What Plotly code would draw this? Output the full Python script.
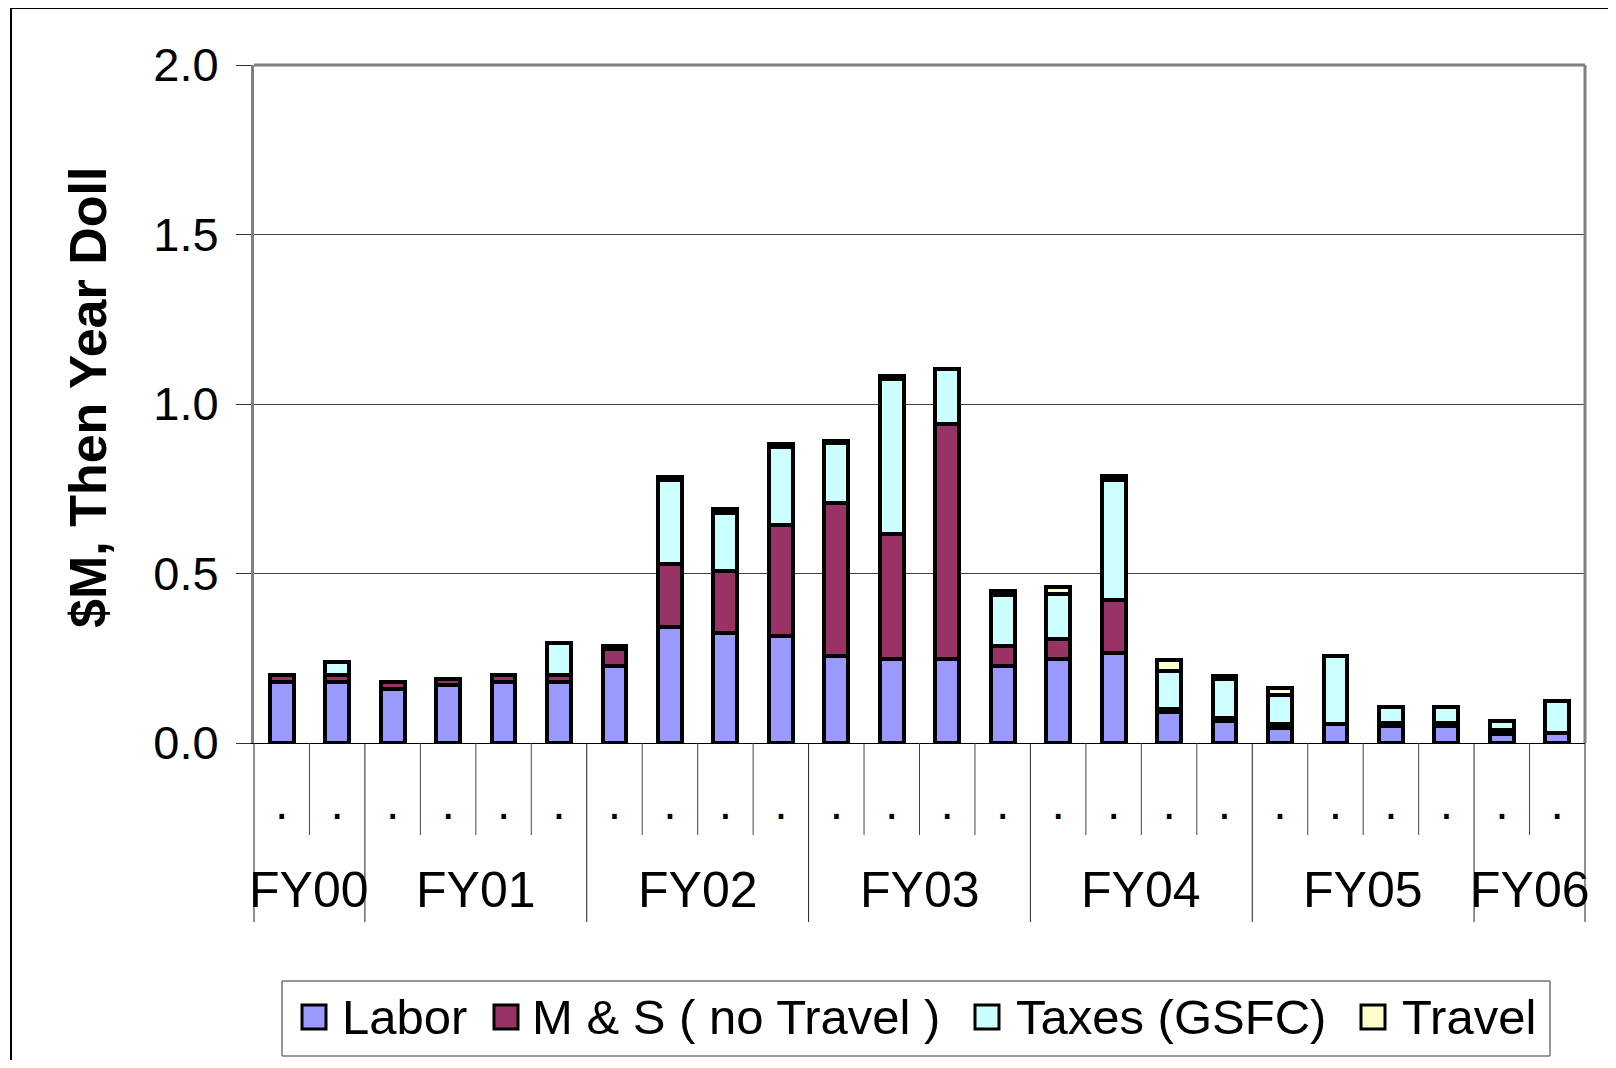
import plotly.graph_objects as go

# ---------------- data ----------------
fy_groups = ["FY00", "FY01", "FY02", "FY03", "FY04", "FY05", "FY06"]
fy_quarters = [["Q3", "Q4"], ["Q1", "Q2", "Q3", "Q4"], ["Q1", "Q2", "Q3", "Q4"],
               ["Q1", "Q2", "Q3", "Q4"], ["Q1", "Q2", "Q3", "Q4"],
               ["Q1", "Q2", "Q3", "Q4"], ["Q1", "Q2"]]
categories = [f"{g} {q}" for g, qs in zip(fy_groups, fy_quarters) for q in qs]
tick_labels = ["."] * len(categories)

labor = [0.18, 0.18, 0.16, 0.17, 0.18, 0.18, 0.226, 0.343, 0.324, 0.316, 0.257, 0.248,
         0.248, 0.227, 0.248, 0.265, 0.09, 0.064, 0.045, 0.056, 0.05, 0.05, 0.027, 0.029]
m_and_s = [0.02, 0.02, 0.02, 0.02, 0.02, 0.02, 0.05, 0.185, 0.184, 0.328, 0.452, 0.368,
           0.693, 0.06, 0.058, 0.156, 0.01, 0.01, 0.01, 0.0, 0.01, 0.01, 0.01, 0.0]
taxes = [0.0, 0.038, 0.0, 0.0, 0.0, 0.096, 0.01, 0.248, 0.171, 0.228, 0.175, 0.457,
         0.163, 0.15, 0.134, 0.355, 0.111, 0.116, 0.086, 0.202, 0.045, 0.045, 0.029, 0.095]
travel = [0.0, 0.0, 0.0, 0.0, 0.0, 0.0, 0.0, 0.009, 0.011, 0.011, 0.007, 0.011,
          0.0, 0.01, 0.02, 0.012, 0.035, 0.008, 0.02, 0.0, 0.0, 0.0, 0.0, 0.0]

series_names = ["Labor", "M & S ( no Travel )", "Taxes (GSFC)", "Travel"]
series_values = [labor, m_and_s, taxes, travel]
series_colors = ["#9999FF", "#993366", "#CCFFFF", "#FFFFCC"]

y_ticks = [0.0, 0.5, 1.0, 1.5, 2.0]
y_title = "$M, Then Year Doll"

# ---------------- layout geometry ----------------
# The page adds an 8px body margin, so the figure is 16px smaller than the
# window and page coordinates are shifted by OFF.
OFF = 8
W, H = 1600, 1052
ML, MR, MT, MB = 246, 23, 57, 317
PW, PH = W - ML - MR, H - MT - MB
FONT = "Liberation Sans, Arial, sans-serif"


def px(x):
    """page x (window pixels) -> paper x"""
    return (x - OFF - ML) / PW


def py(y):
    """page y (window pixels) -> paper y"""
    return (H - MB - (y - OFF)) / PH


fig = go.Figure()
for name, vals, col in zip(series_names, series_values, series_colors):
    fig.add_trace(go.Bar(
        x=categories, y=vals, name=name,
        marker=dict(color=col, line=dict(color="black", width=4)),
        showlegend=False,
    ))

shapes = []
# outer frame (top and left visible)
shapes.append(dict(type="line", xref="paper", yref="paper", x0=px(11), x1=px(1640),
                   y0=py(8), y1=py(8), line=dict(color="black", width=2)))
shapes.append(dict(type="line", xref="paper", yref="paper", x0=px(11), x1=px(11),
                   y0=py(8), y1=py(1080), line=dict(color="black", width=2)))
# plot area top and right border
shapes.append(dict(type="line", xref="paper", yref="paper", x0=0, x1=1, y0=1, y1=1,
                   line=dict(color="#808080", width=3)))
shapes.append(dict(type="line", xref="paper", yref="paper", x0=1, x1=1, y0=0, y1=1,
                   line=dict(color="#808080", width=3)))

# category separators below axis
n = len(categories)
group_bounds = [0]
for qs in fy_quarters:
    group_bounds.append(group_bounds[-1] + len(qs))
for b in range(n + 1):
    xp = b / n
    if b in group_bounds:
        shapes.append(dict(type="line", xref="paper", yref="paper", x0=xp, x1=xp,
                           y0=py(743), y1=py(922), line=dict(color="#222222", width=1)))
    else:
        shapes.append(dict(type="line", xref="paper", yref="paper", x0=xp, x1=xp,
                           y0=py(743), y1=py(835), line=dict(color="#444444", width=1)))

annotations = []
for i, g in enumerate(fy_groups):
    center = (group_bounds[i] + group_bounds[i + 1] - 1) / 2
    annotations.append(dict(text=g, xref="x", yref="paper", x=center, y=py(890),
                            xanchor="center", yanchor="middle", showarrow=False,
                            font=dict(family=FONT, size=50, color="black")))

annotations.append(dict(text=f"<b>{y_title}</b>", xref="paper", yref="paper",
                        x=px(88), y=py(398), textangle=-90, xanchor="center",
                        yanchor="middle", showarrow=False,
                        font=dict(family=FONT, size=52, color="black")))

# legend (drawn manually to match the large boxed legend)
shapes.append(dict(type="rect", xref="paper", yref="paper", x0=px(282), x1=px(1550),
                   y0=py(981), y1=py(1056), line=dict(color="#333333", width=1),
                   fillcolor="white"))
sq_left = [302, 494, 975, 1361]
text_left = [340, 530, 1014, 1400]
for name, col, sx, tx in zip(series_names, series_colors, sq_left, text_left):
    shapes.append(dict(type="rect", xref="paper", yref="paper", x0=px(sx), x1=px(sx + 24),
                       y0=py(1005), y1=py(1029), fillcolor=col,
                       line=dict(color="black", width=3)))
    annotations.append(dict(text=name, xref="paper", yref="paper", x=px(tx), y=py(1017),
                            xanchor="left", yanchor="middle", showarrow=False,
                            font=dict(family=FONT, size=49, color="black")))

fig.update_layout(
    width=W, height=H,
    margin=dict(l=ML, r=MR, t=MT, b=MB, pad=0),
    barmode="stack", bargap=0.57,
    paper_bgcolor="white", plot_bgcolor="white",
    font=dict(family=FONT, color="black"),
    shapes=shapes, annotations=annotations,
    xaxis=dict(type="category", tickvals=categories, ticktext=tick_labels,
               showline=True, linecolor="black", linewidth=1, ticks="",
               showgrid=False, tickfont=dict(size=48, family=FONT),
               ticklabelstandoff=17, range=[-0.5, n - 0.5]),
    yaxis=dict(range=[0, 2], tickvals=y_ticks, tickformat=".1f", ticks="outside",
               ticklen=15, tickcolor="#333333", tickwidth=1,
               showline=True, linecolor="#808080", linewidth=3,
               showgrid=True, gridcolor="#404040", gridwidth=1, zeroline=False,
               tickfont=dict(size=47, family=FONT), ticklabelstandoff=8),
)

fig.write_html("out.html")
